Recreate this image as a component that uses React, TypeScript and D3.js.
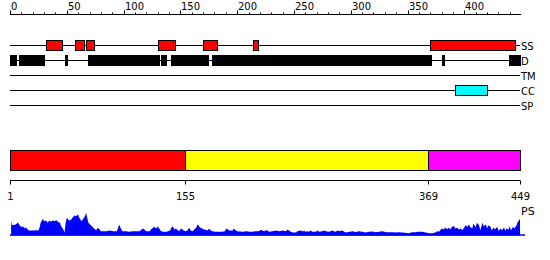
import React from "react";
import * as d3 from "d3";

const seqLength = 449;
const trackNames = ["SS", "D", "TM", "CC", "SP"];
const ssSegments = [[33, 46], [58, 65], [68, 74], [131, 145], [171, 182], [215, 218], [371, 445]];
const disorderSegments = [[1, 5], [9, 30], [49, 50], [70, 131], [134, 137], [143, 174], [179, 371], [381, 382], [440, 449]];
const tmSegments: number[][] = [];
const ccSegments = [[393, 420]];
const spSegments: number[][] = [];
const trackColors = ["#ff0000", "#000000", "#000000", "#00ffff", "#000000"];

const domainSegments = [[1, 154], [155, 368], [369, 449]];
const domainColors = ["#ff0000", "#ffff00", "#ff00ff"];
const boundaryLabels = [1, 155, 369, 449];

const psPoints = [
  [1, 0.57], [2, 0.41], [5, 0.44], [7, 0.52], [8, 0.44], [10, 0.33], [11, 0.37], [13, 0.28], [14, 0.33], [16, 0.21],
  [17, 0.2], [20, 0.2], [23, 0.21], [25, 0.2], [26, 0.31], [27, 0.51], [29, 0.67], [30, 0.57], [32, 0.6], [33, 0.51],
  [35, 0.6], [36, 0.55], [38, 0.61], [39, 0.57], [41, 0.61], [42, 0.55], [44, 0.51], [45, 0.37], [47, 0.24], [48, 0.11],
  [49, 0.51], [50, 0.71], [52, 0.6], [54, 0.64], [55, 0.71], [57, 0.81], [58, 0.77], [60, 0.84], [61, 0.71], [63, 0.57],
  [64, 0.64], [66, 0.77], [67, 0.91], [68, 0.71], [69, 0.51], [70, 0.47], [72, 0.37], [73, 0.33], [74, 0.28], [76, 0.21],
  [77, 0.31], [79, 0.24], [80, 0.17], [85, 0.17], [88, 0.2], [91, 0.17], [94, 0.17], [95, 0.28], [96, 0.44], [98, 0.24],
  [99, 0.17], [102, 0.17], [105, 0.15], [108, 0.17], [114, 0.17], [116, 0.24], [117, 0.28], [119, 0.21], [120, 0.17], [123, 0.17],
  [124, 0.24], [126, 0.31], [127, 0.35], [129, 0.28], [130, 0.37], [132, 0.24], [133, 0.17], [135, 0.15], [138, 0.15], [139, 0.17],
  [141, 0.2], [142, 0.31], [143, 0.37], [145, 0.24], [146, 0.28], [148, 0.2], [149, 0.17], [150, 0.27], [152, 0.24], [153, 0.2],
  [155, 0.17], [156, 0.2], [158, 0.31], [159, 0.2], [161, 0.17], [162, 0.24], [164, 0.31], [165, 0.44], [166, 0.41], [167, 0.33],
  [168, 0.31], [169, 0.28], [171, 0.24], [172, 0.23], [174, 0.2], [175, 0.27], [177, 0.2], [178, 0.17], [181, 0.15], [187, 0.15],
  [189, 0.17], [190, 0.24], [191, 0.28], [193, 0.2], [196, 0.2], [197, 0.28], [199, 0.2], [200, 0.17], [205, 0.15], [208, 0.17],
  [211, 0.15], [213, 0.15], [216, 0.17], [219, 0.17], [221, 0.23], [222, 0.2], [224, 0.17], [225, 0.21], [227, 0.2], [228, 0.15],
  [231, 0.17], [234, 0.2], [237, 0.17], [240, 0.2], [243, 0.17], [244, 0.23], [246, 0.2], [247, 0.15], [249, 0.12], [252, 0.12],
  [253, 0.17], [256, 0.2], [258, 0.16], [259, 0.2], [260, 0.15], [262, 0.17], [263, 0.15], [265, 0.2], [266, 0.15], [269, 0.15],
  [271, 0.2], [272, 0.15], [275, 0.17], [277, 0.2], [278, 0.17], [281, 0.15], [282, 0.17], [284, 0.2], [285, 0.17], [287, 0.15],
  [288, 0.2], [290, 0.17], [293, 0.2], [294, 0.15], [296, 0.12], [299, 0.15], [302, 0.17], [304, 0.13], [307, 0.17], [310, 0.15],
  [313, 0.12], [316, 0.15], [319, 0.16], [322, 0.13], [325, 0.15], [328, 0.17], [331, 0.13], [337, 0.13], [339, 0.12], [342, 0.13],
  [345, 0.12], [348, 0.11], [351, 0.09], [354, 0.13], [357, 0.13], [360, 0.15], [363, 0.15], [366, 0.12], [369, 0.09], [372, 0.09],
  [375, 0.13], [376, 0.17], [378, 0.16], [380, 0.28], [382, 0.24], [383, 0.32], [385, 0.25], [386, 0.31], [388, 0.25], [389, 0.35],
  [391, 0.37], [392, 0.28], [394, 0.31], [395, 0.24], [397, 0.28], [398, 0.21], [400, 0.32], [401, 0.41], [403, 0.35], [404, 0.45],
  [405, 0.35], [407, 0.28], [408, 0.48], [410, 0.32], [411, 0.51], [413, 0.41], [414, 0.21], [416, 0.51], [417, 0.37], [419, 0.44],
  [420, 0.28], [421, 0.41], [423, 0.35], [424, 0.21], [426, 0.32], [427, 0.24], [429, 0.35], [430, 0.19], [432, 0.28], [433, 0.21],
  [435, 0.32], [436, 0.19], [437, 0.28], [439, 0.24], [440, 0.37], [441, 0.21], [443, 0.35], [444, 0.28], [446, 0.41], [447, 0.55],
  [448, 0.59], [449, 0.68],
];

const FONT = "DejaVu Sans, sans-serif";

export default function App() {
  const x = d3.scaleLinear().domain([0, seqLength]).range([10, 520]);
  const trackY = d3.scalePoint<string>().domain(trackNames).range([45.5, 105.5]);
  const trackSegs = [ssSegments, disorderSegments, tmSegments, ccSegments, spSegments];
  const axisTicks = d3.range(0, 441, 10);

  const psY = d3.scaleLinear().domain([0, 1]).range([235.5, 210.5]);
  const area = d3
    .area<number[]>()
    .x((d) => x(d[0]))
    .y0(psY(0))
    .y1((d) => psY(d[1]));
  const psPath = area(psPoints as number[][]) || "";

  const barTop = 150;
  const barH = 20;
  const axisY = 180.5;

  return (
    <svg width={550} height={260} style={{ position: "absolute", left: 0, top: 0, background: "#fff" }} fontFamily={FONT}>
      {/* top ruler */}
      <line x1={x(0)} x2={x(450)} y1={14.5} y2={14.5} stroke="#000" />
      {axisTicks.map((t) => {
        const major = t % 50 === 0;
        const xx = Math.round(x(t)) + 0.5;
        return (
          <g key={t}>
            <line x1={xx} x2={xx} y1={major ? 10.5 : 12.5} y2={14.5} stroke="#000" />
            {major && (
              <text x={xx + 0.5} y={10} fontSize={10} fill="#000">
                {t}
              </text>
            )}
          </g>
        );
      })}

      {/* tracks */}
      {trackNames.map((name, i) => {
        const cy = trackY(name) as number;
        return (
          <g key={name}>
            <line x1={x(0)} x2={x(seqLength)} y1={cy} y2={cy} stroke="#000" />
            {trackSegs[i].map(([s, e], j) => (
              <rect
                key={j}
                x={Math.round(x(s - 1)) + 0.5}
                y={cy - 5}
                width={Math.max(1, Math.round(x(e)) - Math.round(x(s - 1)))}
                height={10}
                fill={trackColors[i]}
                stroke="#000"
              />
            ))}
            <text x={521} y={cy + 4} fontSize={10} fill="#000">
              {name}
            </text>
          </g>
        );
      })}

      {/* domain bar */}
      {domainSegments.map(([s, e], i) => (
        <rect
          key={i}
          x={Math.round(x(s - 1)) + 0.5}
          y={barTop + 0.5}
          width={Math.round(x(e)) - Math.round(x(s - 1))}
          height={barH}
          fill={domainColors[i]}
          stroke="#000"
        />
      ))}
      <line x1={x(0)} x2={x(seqLength)} y1={axisY} y2={axisY} stroke="#000" />
      {boundaryLabels.map((b, i) => {
        const pos = i === boundaryLabels.length - 1 ? b : b - 1;
        const xx = Math.round(x(pos)) + 0.5;
        return (
          <g key={b}>
            <line x1={xx} x2={xx} y1={axisY} y2={axisY + 4} stroke="#000" />
            <text x={xx} y={200} fontSize={10} textAnchor="middle" fill="#000">
              {b}
            </text>
          </g>
        );
      })}

      {/* PS profile */}
      <path d={psPath} fill="#0000ff" stroke="none" />
      <line x1={x(0)} x2={x(seqLength) + 5} y1={235} y2={235} stroke="#0000ff" strokeWidth={1.5} />
      <text x={521} y={215} fontSize={11} fill="#000">
        PS
      </text>
    </svg>
  );
}
